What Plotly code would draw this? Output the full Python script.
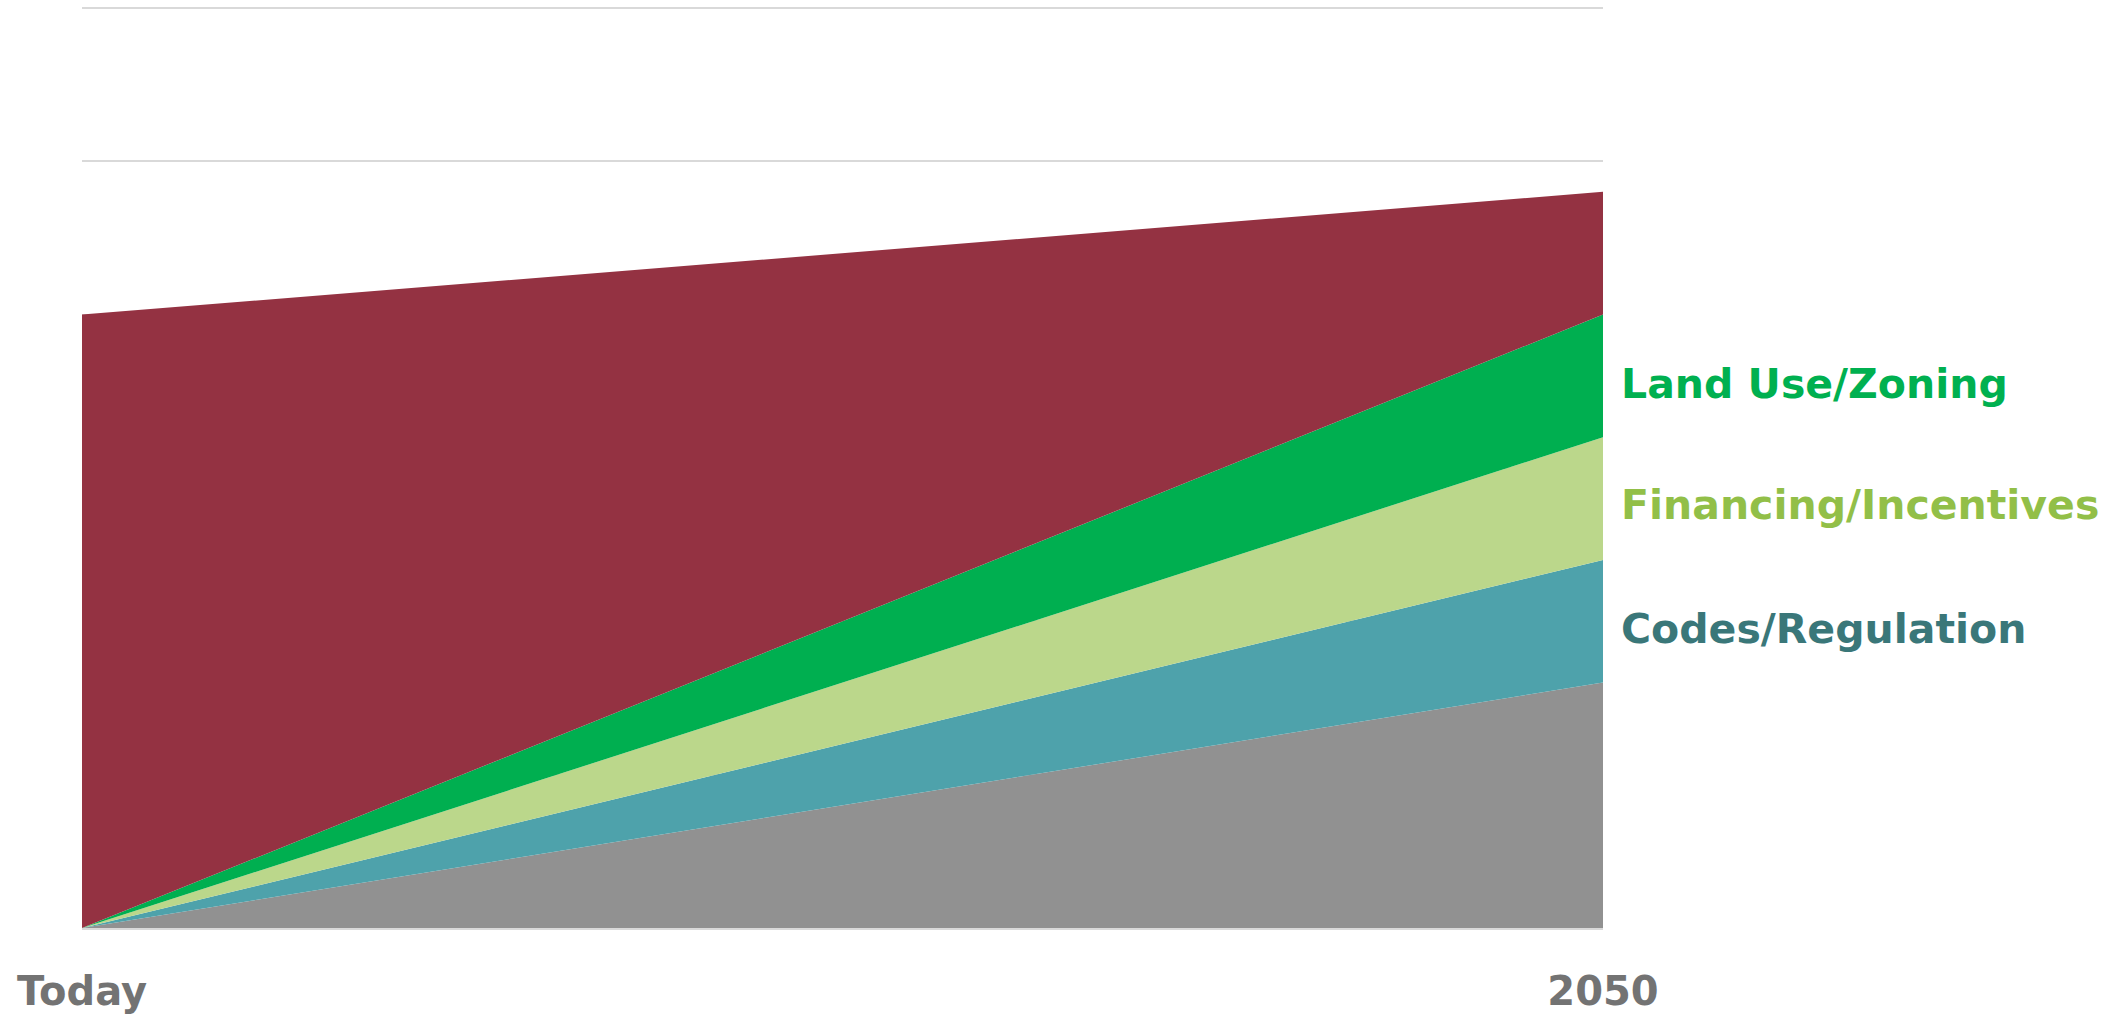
import plotly.graph_objects as go

# Data
categories = ["Today", "2050"]
baseline = [0.0, 1.6]          # grey bottom band
codes_regulation = [0.0, 0.8]  # teal
financing_incentives = [0.0, 0.8]  # light green
land_use_zoning = [0.0, 0.8]   # green
remaining = [4.0, 0.8]         # maroon top band

series_names = ["Baseline", "Codes/Regulation", "Financing/Incentives",
                "Land Use/Zoning", "Remaining"]
series_values = [baseline, codes_regulation, financing_incentives,
                 land_use_zoning, remaining]
series_colors = ["#919191", "#4EA2AB", "#BBD78B", "#00AF50", "#943242"]

label_names = ["Land Use/Zoning", "Financing/Incentives", "Codes/Regulation"]
label_colors = ["#00B050", "#92BF48", "#3A7779"]
label_y = [3.55, 2.76, 1.95]

FONT = "DejaVu Sans"

fig = go.Figure()
for name, vals, col in zip(series_names, series_values, series_colors):
    fig.add_trace(go.Scatter(
        x=categories, y=vals, name=name, mode="lines",
        stackgroup="one", line=dict(width=0, color=col),
        fillcolor=col, showlegend=False, hoverinfo="x+y+name",
    ))

for txt, col, yv in zip(label_names, label_colors, label_y):
    fig.add_annotation(
        xref="paper", yref="y", x=1, y=yv, text="<b>%s</b>" % txt,
        showarrow=False, xanchor="left", yanchor="middle", xshift=16,
        font=dict(family=FONT, size=41, color=col),
    )

fig.update_layout(
    width=2112, height=1015,
    margin=dict(l=82, r=509, t=6, b=87, autoexpand=False),
    paper_bgcolor="white", plot_bgcolor="white",
    showlegend=False,
    xaxis=dict(
        type="category", range=[0, 1], showgrid=False, zeroline=False,
        showline=True, linecolor="#D9D9D9", linewidth=2, automargin=False,
        ticks="outside", ticklen=27, tickcolor="rgba(0,0,0,0)",
        tickfont=dict(family=FONT, size=40, color="#737373"),
        tickprefix="<b>", ticksuffix="</b>",
    ),
    yaxis=dict(
        range=[0, 6.012], tickvals=[0, 1, 2, 3, 4, 5, 6], showgrid=True,
        gridcolor="#D9D9D9", gridwidth=2, zeroline=False, automargin=False,
        showticklabels=False, ticks="", showline=False,
    ),
)

fig.write_html("out.html")
